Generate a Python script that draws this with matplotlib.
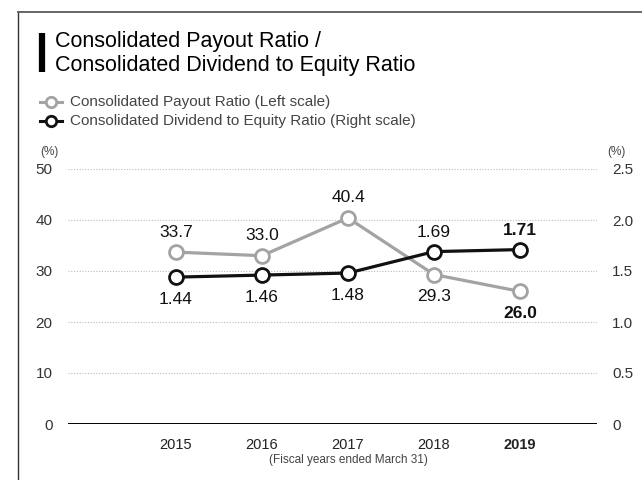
import matplotlib
matplotlib.use("Agg")
import matplotlib.pyplot as plt
from matplotlib import font_manager
from matplotlib.lines import Line2D

years = ["2015", "2016", "2017", "2018", "2019"]
payout_ratio = [33.7, 33.0, 40.4, 29.3, 26.0]
doe_ratio = [1.44, 1.46, 1.48, 1.69, 1.71]
left_ticks = [0, 10, 20, 30, 40, 50]
right_ticks = [0, 0.5, 1.0, 1.5, 2.0, 2.5]
right_tick_labels = ["0", "0.5", "1.0", "1.5", "2.0", "2.5"]

names = {f.name for f in font_manager.fontManager.ttflist}
base = "Liberation Sans" if "Liberation Sans" in names else "DejaVu Sans"
plt.rcParams["font.family"] = [base, "DejaVu Sans"]

GRAY = "#a3a3a3"
BLACK = "#111111"

fig = plt.figure(figsize=(6.42, 4.8), dpi=100)
W, H = 642, 480

def fx(px):
    return px / W

def fy(py):
    return 1 - py / H

# frame border
fig.add_artist(Line2D([fx(18), fx(18)], [fy(12), 0], color="#333333", lw=1.0, transform=fig.transFigure))
fig.add_artist(Line2D([fx(18), 1], [fy(12), fy(12)], color="#666666", lw=1.4, transform=fig.transFigure))

# title bar and title
fig.add_artist(Line2D([fx(42), fx(42)], [fy(33), fy(72)], color="black", lw=4.5, solid_capstyle="butt",
                      transform=fig.transFigure))
fig.text(fx(55), fy(42), "Consolidated Payout Ratio /", fontsize=15.5, va="center", ha="left", color="black")
fig.text(fx(55), fy(65), "Consolidated Dividend to Equity Ratio", fontsize=15.5, va="center", ha="left", color="black")

# legend
for ypx, col, lab in [(102, GRAY, "Consolidated Payout Ratio (Left scale)"),
                      (121, BLACK, "Consolidated Dividend to Equity Ratio (Right scale)")]:
    fig.add_artist(Line2D([fx(40), fx(62)], [fy(ypx), fy(ypx)], color=col, lw=2.2, transform=fig.transFigure))
    fig.add_artist(Line2D([fx(51)], [fy(ypx)], color=col, marker="o", markersize=7.5, markerfacecolor="white",
                          markeredgewidth=2.0, transform=fig.transFigure))
    fig.text(fx(70), fy(ypx), lab, fontsize=11, va="center", ha="left", color="#444444")

fig.text(fx(40), fy(152), "(%)", fontsize=8.5, va="center", ha="left", color="#444444")
fig.text(fx(626), fy(152), "(%)", fontsize=8.5, va="center", ha="right", color="#444444")

ax = fig.add_axes([fx(68), fy(424), fx(597) - fx(68), fy(169) - fy(424)])
ax2 = ax.twinx()

x = list(range(len(years)))
ax.set_xlim(-1.256, 4.895)
ax.set_ylim(0, 50)
ax2.set_ylim(0, 2.5)

for a in (ax, ax2):
    for s in a.spines.values():
        s.set_visible(False)
ax.axhline(0, color="black", lw=1.4, zorder=3)
for t in left_ticks[1:]:
    ax.axhline(t, color="#bbbbbb", lw=0.8, ls=(0, (1, 1.5)), zorder=1)

ax.set_yticks(left_ticks)
ax.set_yticklabels([str(t) for t in left_ticks], fontsize=11, color="#333333")
ax2.set_yticks(right_ticks)
ax2.set_yticklabels(right_tick_labels, fontsize=11, color="#333333")
ax.tick_params(axis="y", length=0, pad=11)
ax2.tick_params(axis="y", length=0, pad=11)
ax.set_xticks(x)
ax.set_xticklabels(years, fontsize=10.5, color="#222222")
for i, lbl in enumerate(ax.get_xticklabels()):
    if i == len(years) - 1:
        lbl.set_fontweight("bold")
ax.tick_params(axis="x", length=0, pad=10)
ax.text(x[2], -(460 - 424) / 255, "(Fiscal years ended March 31)", transform=ax.get_xaxis_transform(),
        fontsize=8.5, ha="center", va="center", color="#444444")

ax.plot(x, payout_ratio, color=GRAY, lw=2.3, marker="o", markersize=10, markerfacecolor="white",
        markeredgewidth=2.0, zorder=4)
ax2.plot(x, doe_ratio, color=BLACK, lw=2.3, marker="o", markersize=10, markerfacecolor="white",
         markeredgewidth=2.0, zorder=5)

last = len(years) - 1
for i, v in enumerate(payout_ratio):
    off = 20 if i < 3 else -22
    ax.annotate(f"{v:.1f}", (x[i], v), xytext=(0, off), textcoords="offset pixels", ha="center", va="center",
                fontsize=12.5, color="#111111", fontweight="bold" if i == last else "normal")
for i, v in enumerate(doe_ratio):
    off = -22 if i < 3 else 19
    ax2.annotate(f"{v:.2f}", (x[i], v), xytext=(0, off), textcoords="offset pixels", ha="center", va="center",
                 fontsize=12.5, color="#111111", fontweight="bold" if i == last else "normal")

fig.savefig("out.png", dpi=100)
